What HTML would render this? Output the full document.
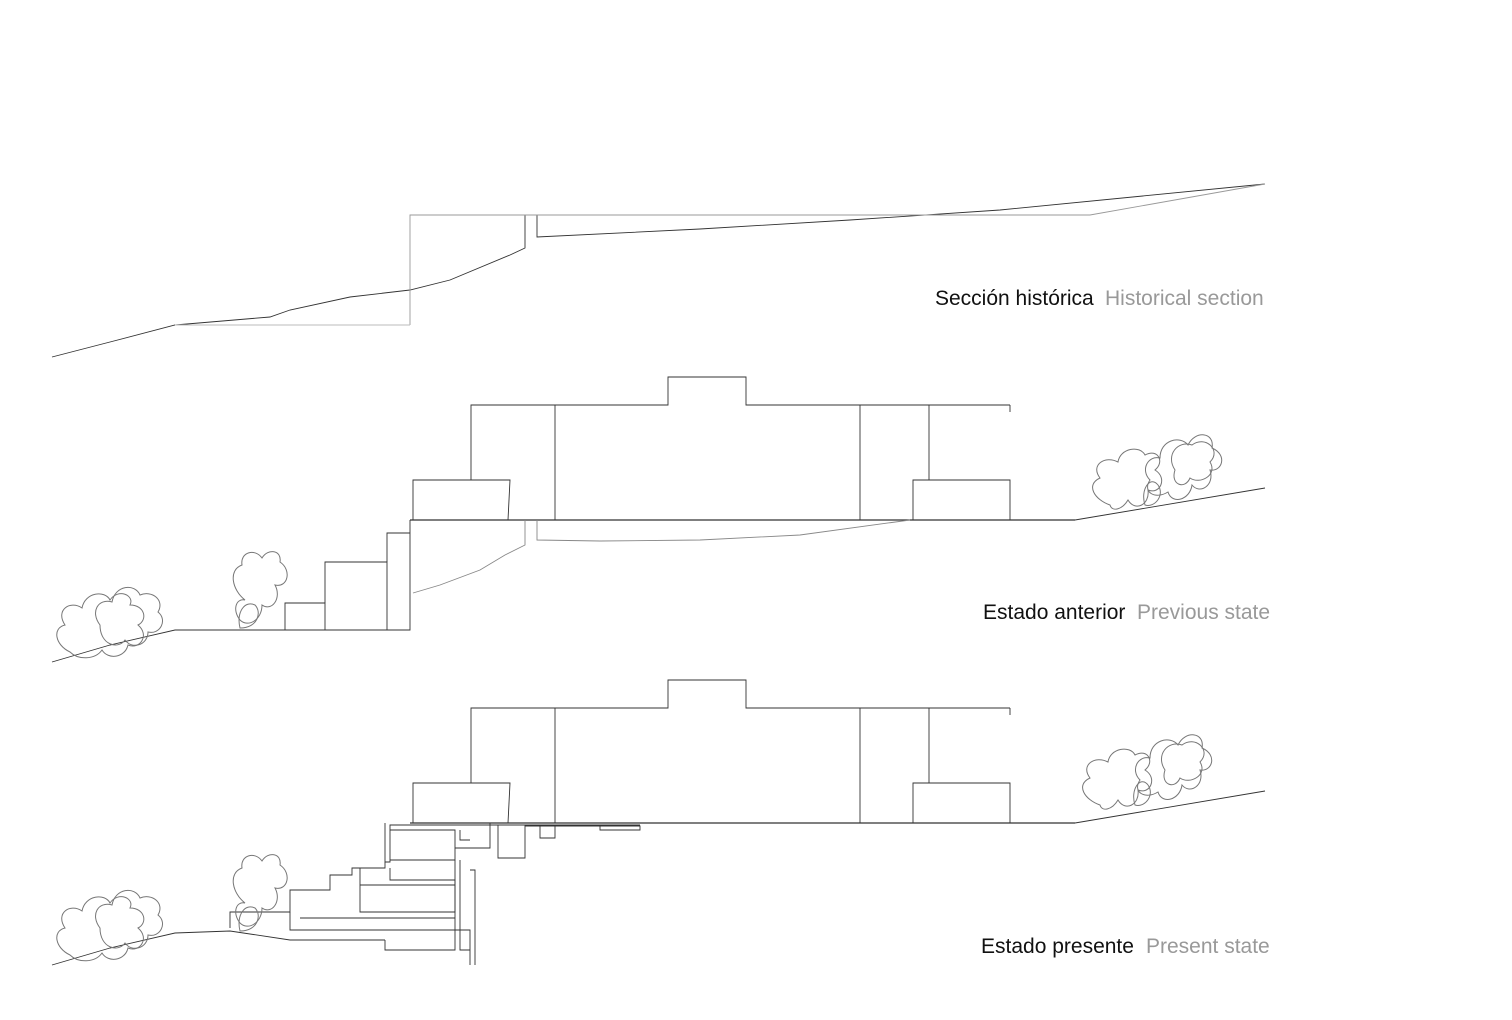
<!DOCTYPE html>
<html><head><meta charset="utf-8"><style>
html,body{margin:0;padding:0;background:#fff;}
svg{display:block}
text{font-family:"Liberation Sans",Arial,sans-serif;font-size:21px}
</style></head><body>
<svg width="1512" height="1020" viewBox="0 0 1512 1020" xmlns="http://www.w3.org/2000/svg">
<defs>
<g id="treeR" fill="none" stroke="#777" stroke-width="1">
<path d="M1110,505 C1095,500 1085,485 1100,478 C1090,465 1105,455 1118,462 C1120,448 1140,445 1145,455 C1158,448 1165,462 1155,470 C1168,478 1160,495 1148,490 C1150,505 1135,512 1128,500 C1122,510 1112,512 1110,505 Z"/>
<path d="M1150,480 C1140,470 1148,455 1160,458 C1160,440 1180,435 1188,445 C1195,430 1215,432 1212,448 C1228,455 1222,472 1210,470 C1215,485 1200,495 1192,485 C1190,500 1172,505 1168,492 C1155,500 1142,492 1150,480 Z"/>
<path d="M1175,470 C1165,455 1178,440 1192,445 C1205,435 1222,450 1210,462 C1218,475 1200,485 1190,478 C1185,490 1170,485 1175,470 Z"/>
<path d="M1145,505 C1140,490 1150,475 1158,485 C1165,495 1155,508 1145,505 Z"/>
</g>
<g id="treeL" fill="none" stroke="#777" stroke-width="1">
<path d="M70,652 C55,645 52,628 65,625 C55,610 70,600 82,608 C85,592 105,590 110,600 C118,588 135,595 130,605 C145,605 148,620 138,625 C150,635 140,650 128,645 C125,658 108,660 102,650 C95,660 78,660 70,652 Z"/>
<path d="M100,625 C90,612 98,598 112,602 C115,585 135,583 140,595 C152,590 165,600 158,612 C168,620 160,635 148,632 C148,645 132,650 125,640 C118,650 100,645 100,625 Z"/>
<path d="M240,620 C232,610 236,598 245,600 C232,590 228,570 242,565 C240,552 255,548 262,558 C268,548 282,550 280,562 C292,570 288,588 275,585 C282,598 272,612 262,605 C262,620 248,628 240,620 Z"/>
<path d="M240,628 C236,612 245,600 255,605 C262,612 258,628 240,628 Z"/>
</g>
</defs>
<g fill="none" stroke="#333" stroke-width="0.9">
<polyline stroke="#333" points="52,357 110,342 175,325 270,317 290,310 350,297 410,290 450,280 510,255 525,248 525,215 537,215 537,237 700,229 850,220 1000,210 1265,184"/>
<polyline stroke="#999" points="410,325 410,215 1090,215 1265,184"/>
<line x1="175" y1="325" x2="410" y2="325" stroke="#bbb"/>
<g id="bldg">
<polyline points="471,480 471,405 668,405 668,377 746,377 746,405 1010,405"/>
<line x1="555" y1="405" x2="555" y2="520"/>
<line x1="860" y1="405" x2="860" y2="520"/>
<line x1="929" y1="405" x2="929" y2="480"/>
<polyline points="413,520 413,480 510,480 508,520"/>
<polyline points="913,520 913,480 1010,480 1010,520"/>
<line x1="1010" y1="405" x2="1010" y2="412"/>
<line x1="410" y1="520" x2="1075" y2="520" stroke-width="1.2"/>
<polyline points="1075,520 1265,488"/>
</g>
<polyline points="52,662 110,645 175,630 410,630 410,520"/>
<polyline points="285,630 285,603 325,603 325,630"/>
<polyline points="325,603 325,562 387,562 387,630"/>
<polyline points="387,562 387,533 410,533"/>
<polyline stroke="#888" points="525,520 525,545 505,555 480,570 440,585 413,593"/>
<polyline stroke="#888" points="537,520 537,540 600,541 700,540 800,535 910,520"/>
<use href="#treeR"/>
<use href="#treeL"/>
<use href="#bldg" transform="translate(0,303)"/>
<polyline points="52,965 110,948 175,933 230,931 290,940 385,940"/>
<polyline points="385,823 385,862 390,862 390,825 640,825"/>
<polyline points="390,860 455,860 455,830 390,830"/>
<polyline points="385,862 385,868 352,868 352,875 330,875 330,890 290,890 290,912 230,912 230,928"/>
<polyline points="290,912 290,930 470,930 470,965"/>
<polyline points="360,868 360,912 455,912 455,880 390,880 390,868"/>
<polyline points="360,885 455,885"/>
<polyline points="300,918 455,918"/>
<polyline points="385,940 385,950 455,950 455,860"/>
<polyline points="460,860 460,950 470,950"/>
<polyline points="470,870 475,870 475,965"/>
<polyline points="455,848 490,848 490,823"/>
<polyline points="498,825 498,858 525,858 525,826 640,826 640,830 600,830 600,826"/>
<polyline points="540,826 540,838 555,838 555,826"/>
<polyline points="460,830 460,840 470,840"/>
<use href="#treeR" transform="translate(-10,300)"/>
<use href="#treeL" transform="translate(0,303)"/>
</g>
<text x="935" y="305" fill="#111">Sección histórica</text>
<text x="1105" y="305" fill="#999">Historical section</text>
<text x="983" y="619" fill="#111">Estado anterior</text>
<text x="1137" y="619" fill="#999">Previous state</text>
<text x="981" y="953" fill="#111">Estado presente</text>
<text x="1146" y="953" fill="#999">Present state</text>
</svg>
</body></html>
